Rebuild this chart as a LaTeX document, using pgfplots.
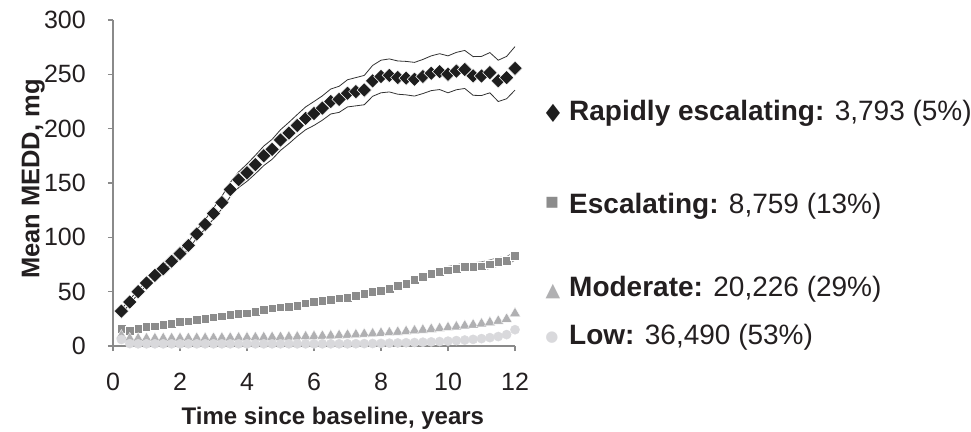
\documentclass[border=0pt]{standalone}
\usepackage{fontspec}
\setmainfont{Liberation Sans}
\newfontfamily\dejavu{DejaVu Sans}
\usepackage{pgfplots}
\usepackage{pgfplotstable}
\pgfplotsset{compat=1.18}
\definecolor{txt}{HTML}{231F20}
\definecolor{axgray}{HTML}{8A8A8A}
\definecolor{rapid}{HTML}{1E1E1E}
\definecolor{esc}{HTML}{8C8C8C}
\definecolor{mod}{HTML}{B0B0B2}
\definecolor{low}{HTML}{D9D9DC}
\definecolor{cir}{HTML}{333333}
\definecolor{cie}{HTML}{7A7A7A}

\pgfplotstableread{
t r rlo rhi e elo ehi m l
0.25 32 30 34 15.9 14.9 16.9 9.5 6
0.5 40.5 38.5 42.5 14.3 13.3 15.3 6.8 2.2
0.75 50 48 52 15.9 14.9 16.9 6.8 2.0
1 58 56 60 17.4 16.4 18.4 6.9 2.0
1.25 65 62.8 67.2 18.3 17.3 19.3 6.9 2.0
1.5 71 68.5 73.5 19.5 18.5 20.5 7.0 2.0
1.75 78 75.3 80.7 20.4 19.4 21.4 7.0 2.0
2 85 82 88 22 21 23 7.1 2.0
2.25 92.5 89.2 95.8 22.9 21.9 23.9 7.1 2.0
2.5 103 99.3 106.7 24.1 23.1 25.1 7.2 2.0
2.75 112 107.8 116.2 25 24 26 7.2 2.0
3 122 117 127 26.5 25 28 7.3 2.0
3.25 132 126.2 137.8 27.4 25.9 28.9 7.4 2.0
3.5 144 137.5 150.5 28.7 27.2 30.2 7.5 2.0
3.75 153 145.8 160.2 29.6 28.1 31.1 7.6 2.0
4 159.5 151.5 167.5 30.2 28.7 31.7 7.7 2.0
4.25 167 158.5 175.5 31.7 30.2 33.2 7.8 2.0
4.5 175 166 184 33.2 31.7 34.7 7.9 2.0
4.75 181 171.8 190.2 34.8 33.3 36.3 8.0 2.0
5 189.5 180 199 35.7 34.2 37.2 8.1 2.0
5.25 196 186.2 205.8 36.3 34.8 37.8 8.3 2.0
5.5 203 193 213 37.2 35.7 38.7 8.5 2.0
5.75 209.5 199 220 39.3 37.8 40.8 8.7 2.0
6 214 203 225 40.9 38.9 42.9 9.0 2.0
6.25 219 207.8 230.2 41.8 39.8 43.8 9.2 2.0
6.5 225 213.5 236.5 42.4 40.4 44.4 9.5 2.0
6.75 227 215 239 43.9 41.9 45.9 9.8 2.0
7 232.5 220 245 44.8 42.8 46.8 10.2 2.0
7.25 234 221 247 46.3 44.3 48.3 10.5 2.1
7.5 235.5 222 249 47.9 45.9 49.9 11.0 2.2
7.75 244 229.8 258.2 50.3 48.3 52.3 11.4 2.3
8 248 233 263 50.9 48.4 53.4 11.9 2.4
8.25 249 233.8 264.2 53 50.5 55.5 12.4 2.6
8.5 247 231.7 262.3 55.5 53 58 12.9 2.8
8.75 246.5 231.1 261.9 57 54.5 59.5 13.5 3.0
9 245.5 230 261 60.7 57.7 63.7 14.2 3.2
9.25 248 232.3 263.7 63.7 60.7 66.7 14.8 3.5
9.5 251 235 267 66.2 63.2 69.2 15.5 3.8
9.75 252.5 236 269 68.3 65.3 71.3 16.2 4.1
10 250 233 267 69.8 66.3 73.3 17.0 4.5
10.25 253 235.8 270.2 71.3 67.8 74.8 17.8 5.0
10.5 254.5 237 272 73.2 69.7 76.7 18.6 5.5
10.75 248.5 230.7 266.3 73.2 69.7 76.7 19.5 6.1
11 248.5 230.5 266.5 73.5 69.5 77.5 20.5 6.8
11.25 251.5 233 270 75.3 71.3 79.3 21.7 7.7
11.5 244 225 263 77.4 73.4 81.4 23.0 8.7
11.75 247 227.5 266.5 78.4 74.4 82.4 24.8 10.5
12 255.5 235.5 275.5 82.9 78.9 86.9 30.0 15.0
}\data

\begin{document}
\begin{tikzpicture}
\path[use as bounding box] (0pt,0pt) rectangle (971pt,431pt);
\begin{axis}[
  at={(113pt,85pt)}, anchor=south west,
  scale only axis, width=402pt, height=326pt,
  xmin=0, xmax=12, ymin=0, ymax=300,
  clip=false,
  axis lines=left,
  axis line style={-, draw=axgray, line width=1.5pt},
  tick style={draw=axgray, line width=1.5pt},
  tick align=outside, major tick length=5pt,
  xtick={0,2,...,12}, ytick={0,50,...,300},
  /pgf/number format/assume math mode=true,
  ticklabel style={font=\fontsize{25}{30}\selectfont, text=txt},
  xticklabel style={inner sep=0pt, anchor=north, yshift=-22pt},
  yticklabel style={inner sep=0pt, anchor=east, xshift=-22pt},
  xlabel={\textbf{Time since baseline, years}},
  ylabel={\textbf{Mean MEDD, mg}},
  every axis x label/.style={at={(axis description cs:0.547,-0.242)}, anchor=base, font=\fontsize{24}{29}\selectfont, text=txt},
  every axis y label/.style={at={(axis description cs:-0.183,0.512)}, rotate=90, anchor=base, font=\fontsize{25.5}{30}\selectfont, text=txt},
]
\addplot[cir, line width=0.8pt] table[x=t,y=rhi]{\data};
\addplot[cir, line width=0.8pt] table[x=t,y=rlo]{\data};
\addplot[cie, line width=0.6pt] table[x=t,y=ehi]{\data};
\addplot[cie, line width=0.6pt] table[x=t,y=elo]{\data};
\addplot[only marks, mark=square*, mark size=5.1pt, mark options={rotate=45, fill=rapid, draw=white, line width=0.5pt}] table[x=t,y=r]{\data};
\addplot[only marks, mark=square*, mark size=4.4pt, mark options={fill=esc, draw=white, line width=0.4pt}] table[x=t,y=e]{\data};
\addplot[only marks, mark=triangle*, mark size=6.2pt, mark options={fill=mod, draw=white, line width=0.3pt}] table[x=t,y=m]{\data};
\addplot[only marks, mark=*, mark size=4.6pt, mark options={fill=low, draw=low}] table[x=t,y=l]{\data};
\end{axis}
\begin{scope}[every node/.style={inner sep=0pt, text=txt, font=\fontsize{28}{33}\selectfont}]
\node[anchor=base west] at (569pt,310pt) {\textbf{Rapidly escalating:} 3,793 (5\%)};
\node[anchor=base west] at (569pt,217pt) {\textbf{Escalating:} 8,759 (13\%)};
\node[anchor=base west] at (569pt,134pt) {\textbf{Moderate:} 20,226 (29\%)};
\node[anchor=base west] at (569pt,86pt) {\textbf{Low:} 36,490 (53\%)};
\node[text=rapid, font=\dejavu\fontsize{25}{30}\selectfont] at (553pt,317.5pt) {♦};
\node[text=esc, font=\dejavu\fontsize{22}{26}\selectfont] at (552pt,228pt) {▪};
\node[text=mod, font=\dejavu\fontsize{19}{23}\selectfont] at (553pt,139pt) {▲};
\node[text=low, font=\dejavu\fontsize{15}{18}\selectfont] at (552pt,93.5pt) {●};
\end{scope}
\end{tikzpicture}
\end{document}
